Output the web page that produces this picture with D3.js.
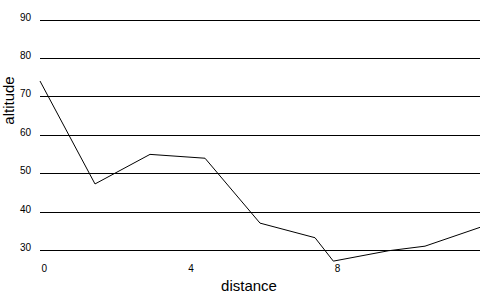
<!DOCTYPE html>
<html>
<head>
<meta charset="utf-8">
<script src="https://cdn.jsdelivr.net/npm/d3@7"></script>
<style>
  body { margin: 0; background: #fff; }
  svg { display: block; font-family: "Liberation Sans", Arial, sans-serif; }
</style>
</head>
<body>
<svg width="500" height="300"></svg>
<script>
const distance = [0, 1.5, 3, 4.5, 6, 7.5, 8, 9.5, 10.5, 12]
const altitude = [74, 47.2, 54.9, 53.9, 37, 33.2, 27.1, 29.8, 31, 35.9]
const yTicks = [30, 40, 50, 60, 70, 80, 90]
const xTicks = [0, 4, 8]

const data = distance.map((d, i) => ({ x: d, y: altitude[i] }))

const svg = d3.select("svg")

const x = d3.scaleLinear()
    .domain([0, 12])
    .range([40, 480])

const y = d3.scaleLinear()
    .domain([30, 90])
    .range([250, 19.6])

// horizontal grid lines double as the y axis
const yAxis = d3.axisLeft(y)
    .tickValues(yTicks)
    .tickSize(-440)
    .tickPadding(9)

svg.append("g")
    .attr("transform", "translate(40, 0)")
    .call(yAxis)
    .call(g => g.select(".domain").remove())
    .call(g => g.selectAll(".tick line")
        .attr("stroke", "#000")
        .attr("shape-rendering", "crispEdges"))
    .call(g => g.selectAll(".tick text")
        .attr("dy", "0.05em")
        .attr("fill", "#000")
        .style("font-size", "10px")
        .style("font-family", "Liberation Sans, Arial, sans-serif"))

const xAxis = d3.axisBottom(x)
    .tickValues(xTicks)
    .tickSize(0)

svg.append("g")
    .call(xAxis)
    .call(g => g.select(".domain").remove())
    .call(g => g.selectAll(".tick text")
        .attr("y", 272)
        .attr("dy", 0)
        .attr("x", 1)
        .attr("text-anchor", "start")
        .attr("fill", "#000")
        .style("font-size", "10px")
        .style("font-family", "Liberation Sans, Arial, sans-serif"))

const line = d3.line()
    .x(d => x(d.x))
    .y(d => y(d.y))

svg.append("path")
    .datum(data)
    .attr("d", line)
    .attr("fill", "none")
    .attr("stroke", "#000")
    .attr("stroke-width", 1)

svg.append("text")
    .attr("transform", "translate(13.6, 100.5) rotate(-90)")
    .attr("text-anchor", "middle")
    .style("font-size", "15px")
    .text("altitude")

svg.append("text")
    .attr("x", 249)
    .attr("y", 290.7)
    .attr("text-anchor", "middle")
    .style("font-size", "15px")
    .text("distance")
</script>
</body>
</html>
